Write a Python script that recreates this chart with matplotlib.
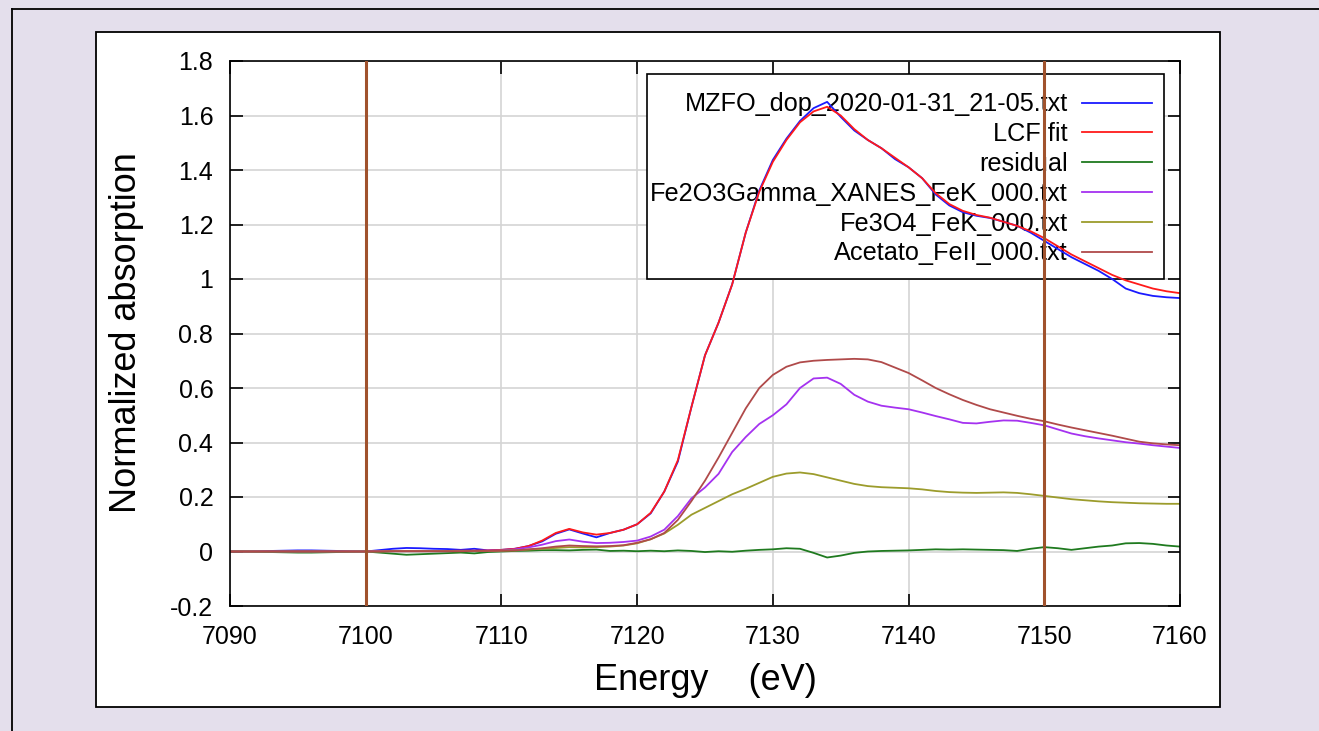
import matplotlib
matplotlib.use("Agg")
import matplotlib.pyplot as plt
from matplotlib.lines import Line2D
from matplotlib.patches import Rectangle

plt.rcParams['font.family'] = ['Liberation Sans', 'DejaVu Sans']

# ---- data (1 eV steps) ----
energy = list(range(7090, 7161))

mzfo = [0.0, 0.0, 0.001, 0.002, 0.003, 0.004, 0.004, 0.003, 0.002, 0.001,
        0.0, 0.005, 0.010, 0.013, 0.012, 0.010, 0.009, 0.006, 0.010, 0.004,
        0.006, 0.010, 0.020, 0.037, 0.065, 0.081, 0.066, 0.052, 0.068, 0.080,
        0.100, 0.140, 0.220, 0.330, 0.530, 0.720, 0.840, 0.980, 1.170, 1.325,
        1.437, 1.515, 1.580, 1.627, 1.650, 1.595, 1.545, 1.510, 1.480, 1.440,
        1.410, 1.370, 1.310, 1.270, 1.245, 1.232, 1.224, 1.210, 1.195, 1.170,
        1.140, 1.110, 1.080, 1.055, 1.030, 1.000, 0.965, 0.948, 0.938, 0.933,
        0.930]

lcf = [0.0, 0.0, 0.0, 0.0, 0.0, 0.0, 0.0, 0.0, 0.0, 0.0,
       0.0, 0.001, 0.002, 0.002, 0.002, 0.002, 0.002, 0.003, 0.003, 0.004,
       0.006, 0.010, 0.020, 0.040, 0.068, 0.083, 0.070, 0.062, 0.068, 0.080,
       0.100, 0.142, 0.220, 0.335, 0.530, 0.720, 0.840, 0.980, 1.170, 1.320,
       1.430, 1.510, 1.575, 1.615, 1.632, 1.600, 1.550, 1.510, 1.480, 1.445,
       1.410, 1.370, 1.315, 1.275, 1.250, 1.235, 1.225, 1.210, 1.195, 1.175,
       1.150, 1.120, 1.090, 1.065, 1.040, 1.015, 0.995, 0.980, 0.965, 0.955,
       0.948]

residual = [0.0, 0.0, -0.001, -0.002, -0.003, -0.004, -0.004, -0.003, -0.002, -0.001,
            0.0, -0.004, -0.008, -0.012, -0.010, -0.008, -0.006, -0.004, -0.007, -0.002,
            0.0, 0.002, 0.003, 0.005, 0.005, 0.004, 0.006, 0.007, 0.002, 0.003,
            0.001, 0.003, 0.001, 0.004, 0.002, -0.002, 0.001, -0.001, 0.003, 0.006,
            0.008, 0.012, 0.010, -0.005, -0.022, -0.015, -0.005, 0.0, 0.002, 0.003,
            0.004, 0.006, 0.008, 0.007, 0.008, 0.007, 0.006, 0.005, 0.002, 0.010,
            0.016, 0.012, 0.006, 0.012, 0.018, 0.022, 0.030, 0.031, 0.028, 0.022,
            0.018]

fe2o3 = [0.0, 0.0, 0.0, 0.0, 0.0, 0.0, 0.0, 0.0, 0.0, 0.0,
         0.0, 0.001, 0.001, 0.001, 0.001, 0.001, 0.001, 0.002, 0.002, 0.003,
         0.004, 0.008, 0.015, 0.025, 0.038, 0.044, 0.036, 0.031, 0.032, 0.035,
         0.040, 0.055, 0.080, 0.130, 0.195, 0.235, 0.285, 0.365, 0.420, 0.468,
         0.500, 0.540, 0.600, 0.635, 0.638, 0.615, 0.575, 0.550, 0.535, 0.528,
         0.522, 0.510, 0.497, 0.485, 0.472, 0.470, 0.476, 0.481, 0.480, 0.472,
         0.463, 0.448, 0.433, 0.423, 0.415, 0.408, 0.401, 0.396, 0.390, 0.385,
         0.380]

fe3o4 = [0.0, 0.0, 0.0, 0.0, 0.0, 0.0, 0.0, 0.0, 0.0, 0.0,
         0.0, 0.0, 0.001, 0.001, 0.001, 0.001, 0.001, 0.001, 0.002, 0.002,
         0.003, 0.004, 0.007, 0.010, 0.013, 0.016, 0.015, 0.016, 0.018, 0.022,
         0.030, 0.045, 0.066, 0.098, 0.135, 0.160, 0.185, 0.210, 0.230, 0.252,
         0.274, 0.286, 0.290, 0.284, 0.272, 0.260, 0.248, 0.240, 0.236, 0.234,
         0.232, 0.228, 0.222, 0.218, 0.216, 0.215, 0.216, 0.217, 0.215, 0.210,
         0.204, 0.198, 0.192, 0.188, 0.184, 0.181, 0.179, 0.177, 0.176, 0.175,
         0.175]

acetato = [0.0, 0.0, 0.0, 0.0, 0.0, 0.0, 0.0, 0.0, 0.0, 0.0,
           0.0, 0.0, 0.001, 0.001, 0.001, 0.001, 0.001, 0.001, 0.002, 0.002,
           0.003, 0.004, 0.008, 0.012, 0.018, 0.022, 0.020, 0.019, 0.020, 0.023,
           0.032, 0.045, 0.068, 0.116, 0.185, 0.260, 0.345, 0.435, 0.525, 0.600,
           0.648, 0.678, 0.694, 0.700, 0.703, 0.705, 0.707, 0.705, 0.695, 0.675,
           0.655, 0.628, 0.600, 0.577, 0.556, 0.538, 0.522, 0.510, 0.498, 0.487,
           0.478, 0.466, 0.455, 0.445, 0.435, 0.425, 0.414, 0.403, 0.397, 0.393,
           0.390]

fit_range = [7100, 7150]

series_labels = ["MZFO_dop_2020-01-31_21-05.txt", "LCF fit", "residual",
                 "Fe2O3Gamma_XANES_FeK_000.txt", "Fe3O4_FeK_000.txt",
                 "Acetato_FeII_000.txt"]
series_colors = ["#1a1aff", "#ff1a1a", "#1f7a1f", "#a532f0", "#9c9c2c", "#b04a4a"]

xticks = [7090, 7100, 7110, 7120, 7130, 7140, 7150, 7160]
yticks = [-0.2, 0, 0.2, 0.4, 0.6, 0.8, 1, 1.2, 1.4, 1.6, 1.8]
ytick_labels = ["-0.2", "0", "0.2", "0.4", "0.6", "0.8", "1", "1.2", "1.4", "1.6", "1.8"]

# ---- figure ----
W, H = 1319, 731
fig = plt.figure(figsize=(W / 100, H / 100), dpi=100, facecolor="#e4dfec")

# outer frame (only top/left visible) and white panel behind the axes
fig.add_artist(Line2D([12 / W, 12 / W], [0, 1 - 9 / H], color="black", lw=1.3))
fig.add_artist(Line2D([12 / W, 1], [1 - 9 / H, 1 - 9 / H], color="black", lw=1.3))
fig.patches.append(Rectangle((96 / W, 1 - 707 / H), (1220 - 96) / W, (707 - 32) / H,
                             transform=fig.transFigure, facecolor="white",
                             edgecolor="black", lw=1.3, zorder=-1))

ax = fig.add_axes([230 / W, 1 - 606 / H, 950 / W, 545 / H])
ax.set_zorder(1)
ax.set_facecolor("white")

all_series = [mzfo, lcf, residual, fe2o3, fe3o4, acetato]
for vals, lab, col in zip(all_series, series_labels, series_colors):
    ax.plot(energy, vals, color=col, lw=1.3, label=lab, zorder=2)

for e in fit_range:
    ax.axvline(e, color="#a0522d", lw=2.2, zorder=3)

ax.set_xlim(7090, 7160)
ax.set_ylim(-0.2, 1.8)
ax.set_xticks(xticks)
ax.set_yticks(yticks)
ax.set_yticklabels(ytick_labels)
ax.tick_params(direction="in", length=9, width=1.2, labelsize=18,
               top=True, right=True, colors="black")
ax.tick_params(axis="x", pad=14)
ax.tick_params(axis="y", pad=12)
ax.grid(True, color="#d4d4d4", lw=1.2)
ax.set_axisbelow(True)
for sp in ax.spines.values():
    sp.set_linewidth(1.2)

# legend frame: white box under the curves (gnuplot style key)
ax.add_patch(Rectangle((0.4389, 0.600), 0.5443, 0.3767, transform=ax.transAxes,
                       facecolor="white", edgecolor="black", lw=1.2, zorder=1.5))
leg = ax.legend(loc="upper right", bbox_to_anchor=(0.9705, 0.9424),
                markerfirst=False, fontsize=18.2, frameon=False,
                borderpad=0, labelspacing=0.23, handlelength=2.77,
                handletextpad=0.55, borderaxespad=0)
leg.set_zorder(1.6)
for t in leg.get_texts():
    t.set_ha("right")

fig.text(127 / W, 1 - 333 / H, "Normalized absorption", rotation=90,
         ha="center", va="center", fontsize=26)
fig.text(705 / W, 1 - 681 / H, "Energy    (eV)", ha="center", va="center",
         fontsize=26)

fig.savefig("out.png", dpi=100, facecolor=fig.get_facecolor())
